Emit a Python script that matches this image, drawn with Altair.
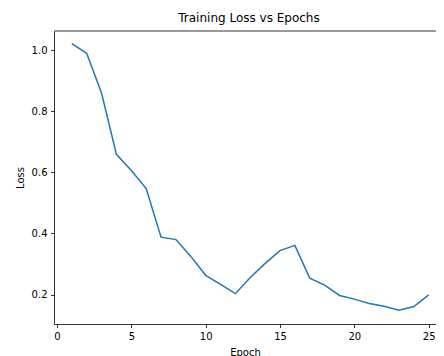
import altair as alt
import pandas as pd

epochs = list(range(1, 26))
loss = [1.022, 0.990, 0.859, 0.659, 0.606, 0.547, 0.388, 0.380, 0.325, 0.263,
        0.233, 0.203, 0.256, 0.302, 0.344, 0.361, 0.254, 0.231, 0.197, 0.185,
        0.171, 0.162, 0.149, 0.161, 0.199]

df = pd.DataFrame({"Epoch": epochs, "Loss": loss})

FONT = "DejaVu Sans"

line = alt.Chart(df).mark_line(color="#1f77b4", strokeWidth=1.5, clip=True).encode(
    x=alt.X("Epoch:Q",
            scale=alt.Scale(domain=[-0.2, 25.49], nice=False, zero=False),
            axis=alt.Axis(values=[0, 5, 10, 15, 20, 25], title="Epoch",
                          titleY=31, titleBaseline="alphabetic")),
    y=alt.Y("Loss:Q",
            scale=alt.Scale(domain=[0.1036, 1.063], nice=False, zero=False),
            axis=alt.Axis(values=[0.2, 0.4, 0.6, 0.8, 1.0], format=".1f",
                          title="Loss", titlePadding=6)),
)

top_spine = alt.Chart(pd.DataFrame({"s": [0]})).mark_rule(
    color="black", strokeWidth=0.8
).encode(x=alt.value(0), x2=alt.value(382), y=alt.value(0))

chart = alt.layer(line, top_spine).properties(
    width=382, height=293,
    title=alt.Title("Training Loss vs Epochs", fontSize=12, fontWeight="normal",
                    font=FONT, color="black", offset=6, dx=4),
    autosize=alt.AutoSizeParams(type="none"),
    padding={"left": 46, "top": 23, "right": 0, "bottom": 32},
).configure_view(
    stroke=None
).configure_axis(
    labelFont=FONT, titleFont=FONT, labelFontSize=10, titleFontSize=10,
    labelColor="black", titleColor="black", titleFontWeight="normal",
    domainColor="black", domainWidth=0.8, tickColor="black", tickWidth=0.8,
    tickSize=3.5, labelPadding=3.5, grid=False,
)

chart.save("out.html", embed_options={"renderer": "svg", "actions": False})
